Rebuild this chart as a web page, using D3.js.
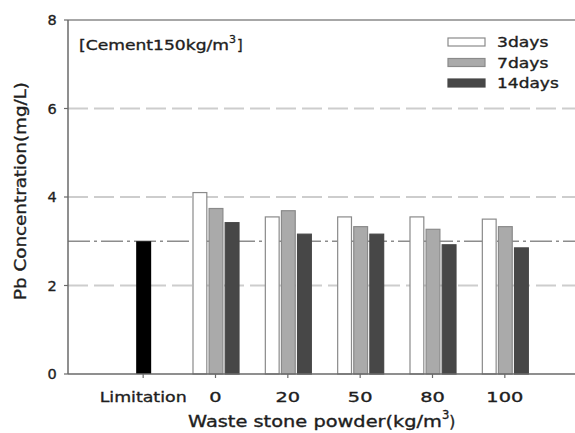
<!DOCTYPE html>
<html>
<head>
<meta charset="utf-8">
<script src="https://cdn.jsdelivr.net/npm/d3@7"></script>
<style>
  html, body { margin: 0; padding: 0; background: #fff; }
  svg { display: block; font-family: "DejaVu Sans", sans-serif; }
  text { fill: #1e1e1e; stroke: #1e1e1e; stroke-width: 0.35px; }
</style>
</head>
<body>
<svg id="chart" width="575" height="433"></svg>
<script>
// Categories along the x axis
const categories = ["Limitation", "0", "20", "50", "80", "100"];
// Regulatory limit value (mg/L)
const limitValue = 3.0;
// Pb concentration by curing age (mg/L) for each powder content
const series = ["3days", "7days", "14days"];
const days3 = [4.10, 3.55, 3.55, 3.55, 3.50];
const days7 = [3.74, 3.69, 3.33, 3.27, 3.33];
const days14 = [3.42, 3.16, 3.16, 2.92, 2.85];
const yTicks = [0, 2, 4, 6, 8];
const gridValues = [2, 4, 6];

const svg = d3.select("#chart");
const plotLeft = 68, plotRight = 575, plotTop = 20, plotBottom = 374;

const x = d3.scaleBand().domain(categories).range([107, 541]).padding(0);
const y = d3.scaleLinear().domain([0, 8]).range([plotBottom, plotTop]);
const sub = d3.scaleBand().domain(series).range([-23, 24]).paddingInner(0.08);

const fills = { "3days": "#ffffff", "7days": "#aaaaaa", "14days": "#474747" };
const strokes = { "3days": "#8a8a8a", "7days": "#8a8a8a", "14days": "#474747" };
const valuesBy = { "3days": days3, "7days": days7, "14days": days14 };

// Widen a label to a given advance width, stretching the glyphs themselves
function fit(sel, w) {
  return sel.attr("textLength", w).attr("lengthAdjust", "spacingAndGlyphs");
}

// Dashed reference grid
svg.append("g").selectAll("line").data(gridValues).join("line")
  .attr("x1", plotLeft).attr("x2", plotRight)
  .attr("y1", d => y(d)).attr("y2", d => y(d))
  .attr("stroke", "#cdcdcd").attr("stroke-width", 2)
  .attr("stroke-dasharray", "20,6");

// Limit line (dash-dot)
svg.append("line")
  .attr("x1", plotLeft).attr("x2", plotRight)
  .attr("y1", y(limitValue)).attr("y2", y(limitValue))
  .attr("stroke", "#8c8c8c").attr("stroke-width", 1.5)
  .attr("stroke-dasharray", "22,4,3,4");

// Top frame line
svg.append("line")
  .attr("x1", plotLeft).attr("x2", plotRight)
  .attr("y1", y(8)).attr("y2", y(8))
  .attr("stroke", "#8a8a8a").attr("stroke-width", 1.5);

// Limitation bar
const limX = x("Limitation") + x.bandwidth() / 2;
svg.append("rect")
  .attr("x", limX - 7).attr("width", 15)
  .attr("y", y(limitValue)).attr("height", y(0) - y(limitValue))
  .attr("fill", "#000");

// Grouped bars
const groups = categories.slice(1);
series.forEach(s => {
  svg.append("g").selectAll("rect").data(groups).join("rect")
    .attr("x", (d) => x(d) + x.bandwidth() / 2 + sub(s) + 0.5)
    .attr("width", sub.bandwidth() - 1)
    .attr("y", (d, i) => y(valuesBy[s][i]))
    .attr("height", (d, i) => y(0) - y(valuesBy[s][i]))
    .attr("fill", fills[s])
    .attr("stroke", strokes[s]).attr("stroke-width", 1.2);
});

// Axes
const xAxis = svg.append("g").attr("transform", `translate(0,${plotBottom})`);
xAxis.append("line").attr("x1", plotLeft).attr("x2", plotRight)
  .attr("stroke", "#6a6a6a").attr("stroke-width", 1.5);
xAxis.selectAll("line.tick").data(categories).join("line").attr("class", "tick")
  .attr("x1", d => x(d) + x.bandwidth() / 2).attr("x2", d => x(d) + x.bandwidth() / 2)
  .attr("y1", 0).attr("y2", 4).attr("stroke", "#6a6a6a").attr("stroke-width", 1.2);
xAxis.selectAll("text").data(categories).join("text")
  .attr("x", d => x(d) + x.bandwidth() / 2).attr("y", 28)
  .attr("text-anchor", "middle").attr("font-size", 14.5)
  .each(function (d) {
    fit(d3.select(this), d.length > 3 ? 87 : d.length * 12.3);
  })
  .text(d => d);

const yAxis = svg.append("g").attr("transform", `translate(${plotLeft},0)`);
yAxis.append("line").attr("y1", plotTop).attr("y2", plotBottom)
  .attr("stroke", "#6a6a6a").attr("stroke-width", 1.5);
yAxis.selectAll("line.tick").data(yTicks).join("line").attr("class", "tick")
  .attr("x1", -4).attr("x2", 0).attr("y1", d => y(d)).attr("y2", d => y(d))
  .attr("stroke", "#6a6a6a").attr("stroke-width", 1.2);
yAxis.selectAll("text").data(yTicks).join("text")
  .attr("x", -16).attr("y", d => y(d) + 5)
  .attr("text-anchor", "middle").attr("font-size", 14.5)
  .text(d => d);

// Axis titles
const xTitle = svg.append("text")
  .attr("x", 188).attr("y", 427).attr("font-size", 15.5);
fit(xTitle.append("tspan"), 254).text("Waste stone powder(kg/m");
xTitle.append("tspan").attr("dy", -8).attr("font-size", 11.5).text("3");
xTitle.append("tspan").attr("dy", 8).text(")");

fit(svg.append("text")
  .attr("transform", "translate(26,191) rotate(-90)")
  .attr("text-anchor", "middle").attr("font-size", 15), 218)
  .text("Pb Concentration(mg/L)");

// Mix annotation
const note = svg.append("text").attr("x", 79).attr("y", 50).attr("font-size", 14.5);
fit(note.append("tspan"), 150).text("[Cement150kg/m");
note.append("tspan").attr("dy", -7).attr("font-size", 11).text("3");
note.append("tspan").attr("dy", 7).attr("dx", 1).text("]");

// Legend
const legend = svg.append("g");
series.forEach((s, i) => {
  const ly = 38 + i * 20.5;
  legend.append("rect").attr("x", 448).attr("y", ly).attr("width", 37).attr("height", 8)
    .attr("fill", fills[s]).attr("stroke", strokes[s]).attr("stroke-width", 1.2);
  fit(legend.append("text").attr("x", 497).attr("y", ly + 9).attr("font-size", 14),
      s.length * 10.3).text(s);
});
</script>
</body>
</html>
